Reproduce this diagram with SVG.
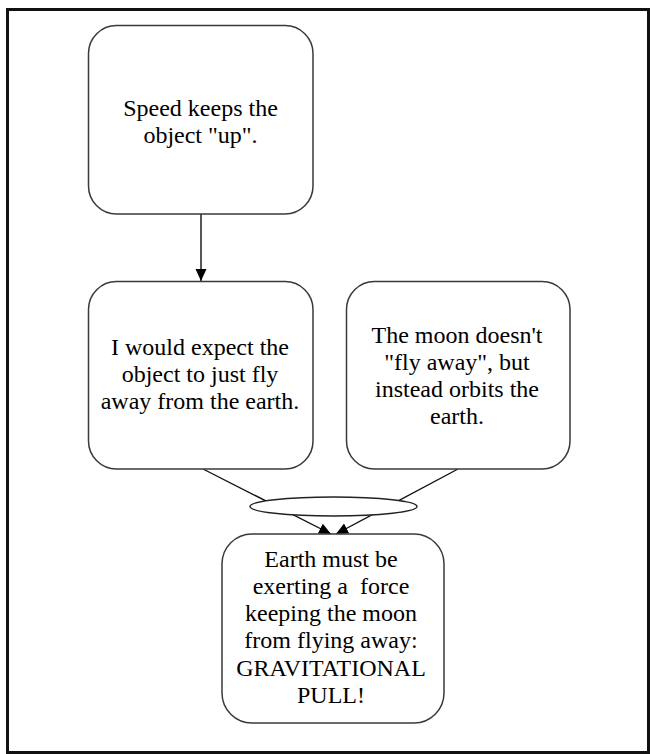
<svg xmlns="http://www.w3.org/2000/svg" width="651" height="754" viewBox="0 0 651 754">
<style>
.box{fill:#fff;stroke:#3a3a3a;stroke-width:1.5}
.t{font-family:"Liberation Serif","Times New Roman",serif;font-size:24px;fill:#000;text-anchor:middle}
.c{fill:none;stroke:#111;stroke-width:1.4}
</style>
<defs>
<marker id="ah" markerUnits="userSpaceOnUse" markerWidth="13" markerHeight="12" refX="12" refY="5.5" orient="auto">
<path d="M0,0 L12,5.5 L0,11 z" fill="#000"/>
</marker>
</defs>
<rect x="0" y="0" width="651" height="754" fill="#fff"/>
<rect x="7.5" y="9.5" width="641" height="743" fill="none" stroke="#111" stroke-width="3"/>
<g id="connectors">
<line class="c" x1="201" y1="214" x2="201" y2="281" marker-end="url(#ah)"/>
<line class="c" x1="203" y1="469" x2="331" y2="534" marker-end="url(#ah)"/>
<line class="c" x1="458" y1="469" x2="336" y2="534" marker-end="url(#ah)"/>
<ellipse cx="333.5" cy="506.5" rx="83.5" ry="9.5" fill="#fff" stroke="#222" stroke-width="1.4"/>
</g>
<g id="n1">
<rect class="box" x="88.5" y="25.5" width="224.5" height="188.5" rx="28"/>
<text class="t" x="200.5" y="116">Speed keeps the</text>
<text class="t" x="200.5" y="143">object "up".</text>
</g>
<g id="n2">
<rect class="box" x="88.5" y="281.5" width="224.5" height="187.5" rx="28"/>
<text class="t" x="200" y="355">I would expect the</text>
<text class="t" x="200" y="382">object to just fly</text>
<text class="t" x="200" y="409">away from the earth.</text>
</g>
<g id="n3">
<rect class="box" x="346.5" y="281.5" width="223.5" height="187.5" rx="28"/>
<text class="t" x="457" y="343">The moon doesn't</text>
<text class="t" x="457" y="370">"fly away", but</text>
<text class="t" x="457" y="397">instead orbits the</text>
<text class="t" x="457" y="424">earth.</text>
</g>
<g id="n4">
<rect class="box" x="222" y="534" width="222" height="189" rx="30"/>
<text class="t" x="331" y="567">Earth must be</text>
<text class="t" x="331" y="594" xml:space="preserve">exerting a  force</text>
<text class="t" x="331" y="621">keeping the moon</text>
<text class="t" x="331" y="648">from flying away:</text>
<text class="t" x="331" y="676">GRAVITATIONAL</text>
<text class="t" x="331" y="703">PULL!</text>
</g>
</svg>
